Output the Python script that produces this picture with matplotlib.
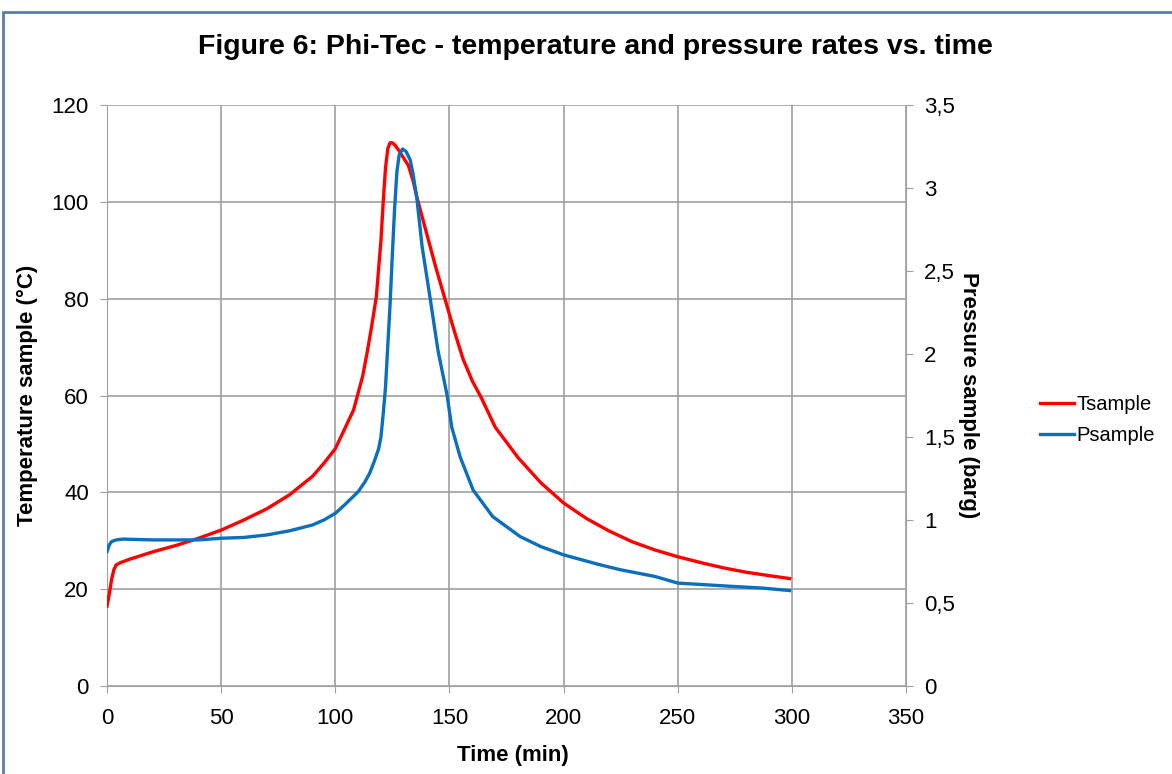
import matplotlib
matplotlib.use("Agg")
import matplotlib.pyplot as plt
from matplotlib.patches import Rectangle

plt.rcParams['font.family'] = ['Liberation Sans', 'DejaVu Sans']

# readings from the Phi-Tec run (time in min)
t_temp = [0, 1, 2, 3, 4, 6, 10, 20, 30, 40, 50, 60, 70, 80, 90, 95, 100, 104, 108,
          110, 112, 114, 116, 118, 120, 121, 122, 123, 124, 125, 126, 128, 130, 132,
          134, 136, 140, 144, 148, 152, 156, 160, 164, 170, 180, 190, 200, 210, 220,
          230, 240, 250, 260, 270, 280, 290, 299]
tsample = [16.5, 19, 22, 24, 25, 25.5, 26.2, 27.7, 29, 30.5, 32.2, 34.3, 36.6, 39.5,
           43.3, 46, 49, 53, 57, 60.5, 64, 69, 74.5, 80.5, 92, 100, 107, 111, 112.2,
           112.2, 111.8, 110.5, 109, 107.5, 104.5, 100.5, 93.5, 86.5, 80, 73.5, 67.5,
           63, 59.5, 53.5, 47.2, 42, 37.8, 34.6, 32, 29.8, 28.1, 26.7, 25.5, 24.4,
           23.5, 22.8, 22.2]

t_pres = [0, 1, 2, 4, 7, 20, 40, 50, 60, 70, 80, 90, 95, 100, 104, 107, 110, 113,
          115, 117, 119, 120, 121, 122, 123, 124, 125, 126, 127, 128, 129.5, 131,
          132.8, 134, 135.8, 138, 141.5, 145, 149, 151, 154.7, 160.4, 169, 181, 190,
          200, 216, 225, 240, 250, 262, 274, 287, 299]
psample = [0.81, 0.85, 0.87, 0.88, 0.885, 0.88, 0.88, 0.89, 0.895, 0.91, 0.935, 0.97,
           1.0, 1.04, 1.09, 1.13, 1.17, 1.23, 1.28, 1.35, 1.43, 1.5, 1.64, 1.8, 2.05,
           2.3, 2.6, 2.88, 3.1, 3.2, 3.235, 3.22, 3.17, 3.09, 2.93, 2.65, 2.34, 2.02,
           1.75, 1.56, 1.38, 1.18, 1.02, 0.9, 0.84, 0.79, 0.73, 0.70, 0.66, 0.62,
           0.61, 0.60, 0.59, 0.575]

x_ticks = [0, 50, 100, 150, 200, 250, 300, 350]
left_ticks = [0, 20, 40, 60, 80, 100, 120]
right_ticks = [0, 0.5, 1, 1.5, 2, 2.5, 3, 3.5]
right_labels = ["0", "0,5", "1", "1,5", "2", "2,5", "3", "3,5"]

gray = '#a0a0a0'

fig = plt.figure(figsize=(11.72, 7.74), dpi=100)
fig.patches.append(Rectangle((3 / 1172, -0.02), 1.05, 1 - 12 / 774 + 0.02,
                             transform=fig.transFigure, fill=False,
                             edgecolor='#5b7ea8', linewidth=2, zorder=10))

ax = fig.add_axes([107 / 1172, 1 - 686 / 774, (906 - 107) / 1172, (686 - 105) / 774])
ax2 = ax.twinx()

l1, = ax.plot(t_temp, tsample, color='#ff0000', linewidth=2.4, label='Tsample', zorder=3)
l2, = ax2.plot(t_pres, psample, color='#0a6fbd', linewidth=2.4, label='Psample', zorder=3)

ax.set_xlim(0, 350)
ax.set_ylim(0, 120)
ax2.set_ylim(0, 3.5)
ax.set_xticks(x_ticks)
ax.set_yticks(left_ticks)
ax2.set_yticks(right_ticks)
ax2.set_yticklabels(right_labels)

ax.grid(True, color=gray, linewidth=1.2)
for a in (ax, ax2):
    a.spines['top'].set_visible(False)
    for s in ('left', 'right', 'bottom'):
        a.spines[s].set_color(gray)
    a.tick_params(colors=gray, labelcolor='black', labelsize=16, length=5,
                  direction='out', pad=8)
ax.tick_params(axis='x', pad=11)
ax.spines['right'].set_visible(False)
ax2.spines['left'].set_visible(False)
ax2.spines['bottom'].set_visible(False)

ax.set_xlabel('Time (min)', fontsize=16, fontweight='bold')
ax.set_ylabel('Temperature sample (°C)', fontsize=16, fontweight='bold')
ax2.set_ylabel('Pressure sample (barg)', fontsize=16, fontweight='bold', rotation=-90)
ax.xaxis.set_label_coords(0.5 + 0.008, -0.119)
ax.yaxis.set_label_coords(-0.100, 0.5)
ax2.yaxis.set_label_coords(1.0776, 0.5)
ax.xaxis.label.set_va('center')
ax.yaxis.label.set_va('center')
ax2.yaxis.label.set_va('center')

fig.suptitle('Figure 6: Phi-Tec - temperature and pressure rates vs. time',
             x=595 / 1172, y=1 - 47 / 774, va='center',
             fontsize=20.5, fontweight='bold')

fig.legend(handles=[l1, l2], loc='center left',
           bbox_to_anchor=(1040 / 1172, 1 - 420 / 774), frameon=False,
           borderpad=0, borderaxespad=0,
           fontsize=14.5, handlelength=1.7, handletextpad=0.1, labelspacing=0.6)

fig.savefig('out.png', dpi=100)
